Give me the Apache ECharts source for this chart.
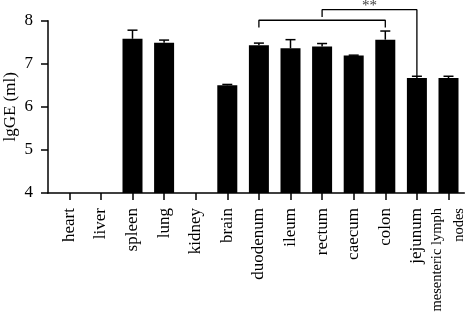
<!DOCTYPE html>
<html>
<head>
<meta charset="utf-8">
<script src="https://cdn.jsdelivr.net/npm/echarts@6/dist/echarts.min.js"></script>
<style>
  html, body { margin: 0; padding: 0; background: #fff; }
  #chart { width: 471px; height: 326px; }
</style>
</head>
<body>
<div id="chart"></div>
<script>
// tissues and lgGE means / SD
const tissues = ['heart', 'liver', 'spleen', 'lung', 'kidney', 'brain', 'duodenum',
  'ileum', 'rectum', 'caecum', 'colon', 'jejunum', 'mesenteric lymph\nnodes']
const means = [null, null, 7.58, 7.49, null, 6.50, 7.43, 7.36, 7.40, 7.19, 7.56, 6.67, 6.67]
const errs = [null, null, 0.20, 0.06, null, 0.02, 0.05, 0.20, 0.07, 0.01, 0.20, 0.04, 0.04]
const yTicks = [4, 5, 6, 7, 8]

// significance brackets: [fromIdx, toIdx, barY, leftFootY, rightFootY]
const brackets = [
  [6, 10, 8.01, 7.845, 7.845],
  [8, 11, 8.256, 8.086, 6.71],
]
const starPos = [9.5, 8.33]
const starText = '**'

const chart = echarts.init(document.getElementById('chart'))
const FONT = 'Liberation Serif'

const errData = means.map((m, i) => m == null ? null : [i, m, errs[i]]).filter(d => d)

const bracketSeries = brackets.map(b => ({
  type: 'line',
  xAxisIndex: 1, yAxisIndex: 1,
  data: [[b[0], b[3]], [b[0], b[2]], [b[1], b[2]], [b[1], b[4]]],
  symbol: 'none', clip: false, silent: true,
  lineStyle: { color: '#000', width: 1.3 },
  z: 5,
}))

chart.setOption({
  animation: false,
  grid: [
    { left: 53.5, right: 6.7, top: 20.7, bottom: 133, outerBoundsMode: 'none', containLabel: false },
    { left: 48, right: 6.7, top: 20.7, bottom: 133, outerBoundsMode: 'none', containLabel: false },
  ],
  xAxis: [
    {
      type: 'category', gridIndex: 0, data: tissues,
      axisLine: { show: false },
      axisTick: { show: true, alignWithLabel: true, length: 7, lineStyle: { color: '#000', width: 1.5 } },
      axisLabel: {
        rotate: 90, interval: 0, margin: 15, color: '#000',
        fontFamily: FONT, fontSize: 17, lineHeight: 21,
        formatter: v => v.indexOf('\n') >= 0 ? '{s|' + v.replace('\n', '}\n{s|') + '}' : v,
        rich: { s: { fontFamily: FONT, fontSize: 14.5, lineHeight: 22, color: '#000' } },
      },
    },
    {
      type: 'value', gridIndex: 1, min: -0.674, max: 12.5,
      axisLine: { show: true, onZero: false, lineStyle: { color: '#000', width: 1.5 } },
      axisTick: { show: false }, axisLabel: { show: false }, splitLine: { show: false },
    },
  ],
  yAxis: [
    {
      type: 'value', gridIndex: 0, min: 4, max: 8, interval: 1, offset: 5.5,
      name: 'lgGE (ml)', nameLocation: 'middle', nameGap: 29, nameMoveOverlap: false,
      nameTextStyle: { fontFamily: FONT, fontSize: 17, color: '#000' },
      axisLine: { show: true, lineStyle: { color: '#000', width: 1.5 } },
      axisTick: { show: true, length: 7, lineStyle: { color: '#000', width: 1.5 } },
      axisLabel: {
        margin: 15, color: '#000', fontFamily: FONT, fontSize: 17,
        formatter: v => yTicks.includes(v) ? String(v) : '',
      },
      splitLine: { show: false },
    },
    {
      type: 'value', gridIndex: 1, min: 4, max: 8, show: false,
    },
  ],
  series: [
    {
      type: 'bar', xAxisIndex: 0, yAxisIndex: 0, data: means,
      barWidth: 20, itemStyle: { color: '#000' }, silent: true,
    },
    {
      type: 'custom', xAxisIndex: 0, yAxisIndex: 0, data: errData, z: 3,
      renderItem: (params, api) => {
        const base = api.coord([api.value(0), api.value(1)])
        const top = api.coord([api.value(0), api.value(1) + api.value(2)])
        const st = { stroke: '#000', lineWidth: 1.5 }
        return {
          type: 'group',
          children: [
            { type: 'line', shape: { x1: base[0], y1: base[1], x2: top[0], y2: top[1] }, style: st },
            { type: 'line', shape: { x1: top[0] - 5, y1: top[1], x2: top[0] + 5, y2: top[1] }, style: st },
          ],
        }
      },
    },
    ...bracketSeries,
    {
      type: 'scatter', xAxisIndex: 1, yAxisIndex: 1, data: [starPos],
      symbolSize: 1, itemStyle: { color: 'rgba(0,0,0,0)' }, clip: false, silent: true,
      label: {
        show: true, position: 'inside', formatter: starText,
        fontFamily: FONT, fontSize: 15, color: '#000',
      },
    },
  ],
})
</script>
</body>
</html>
